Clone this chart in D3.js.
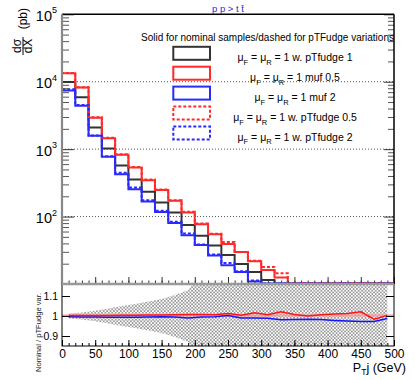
<!DOCTYPE html>
<html>
<head>
<meta charset="utf-8">
<script src="https://cdn.jsdelivr.net/npm/d3@7"></script>
<style>
  body { margin: 0; background: #fff; }
  svg { font-family: "Liberation Sans", Arial, Helvetica, sans-serif; }
</style>
</head>
<body>
<svg id="chart" width="415" height="380"></svg>
<script>
// 20 GeV bins from 0 to 500
const binEdges = d3.range(0, 501, 20)
const binCenters = d3.range(10, 500, 20)

// dsigma/dX (pb) per bin
const nominal = [9900, 5890, 2090, 1020, 571, 355, 233, 162, 115, 74.8, 52, 37.3, 26.9, 19.8, 15.1, 11.5, 0, 0, 0, 0, 0, 0, 0, 0, 0]
const muf05 = [13370, 8190, 2910, 1455, 824, 534, 347, 247, 171, 115, 77, 54.7, 39.3, 29.8, 21.8, 16.1, 12.5, 0, 0, 0, 0, 0, 0, 0, 0]
const muf2 = [7380, 4420, 1575, 769, 426, 255, 167, 117, 80, 53, 37.8, 26.5, 18.9, 15.1, 10.9, 0, 0, 0, 0, 0, 0, 0, 0, 0, 0]
const fudge05 = [13500, 8300, 2960, 1480, 840, 545, 355, 252, 175, 118, 79, 55.6, 41.9, 29.8, 22.1, 17.9, 14.4, 0, 0, 0, 0, 0, 0, 0, 0]
const fudge2 = [7740, 4530, 1590, 785, 446, 270, 175, 122, 84, 56, 38.6, 27.5, 20.5, 15.4, 11.3, 0, 0, 0, 0, 0, 0, 0, 0, 0, 0]

// ratio pad: nominal / pTFudge variation at bin centres
const ratioFudge05 = [1.002, 1.002, 1.003, 1.003, 1.004, 1.004, 1.005, 1.005, 1.006, 1.007, 1.007, 1.006, 1.012, 1.004, 1.016, 1.006, 1.021, 1.008, 1.0, 1.006, 1.01, 1.012, 1.021, 0.984, 1.003]
const ratioFudge2 = [0.996, 0.995, 0.995, 0.994, 0.994, 0.994, 0.995, 0.996, 0.995, 0.99, 0.995, 0.996, 1.003, 0.99, 0.99, 0.989, 0.981, 0.982, 0.984, 0.982, 0.978, 0.975, 0.972, 0.972, 0.988]
// relative stat. uncertainty of the nominal sample (hatched band)
const relErr = [0.013, 0.018, 0.026, 0.038, 0.05, 0.06, 0.072, 0.085, 0.105, 0.13, 0.22, 0.28, 0.34, 0.4, 0.45, 0.5, 0.6, 0.7, 0.8, 0.9, 1, 1, 1, 1, 1]

const xTicks = d3.range(0, 501, 50)
const xMinor = d3.range(0, 501, 10)
const yDecades = [100, 1000, 10000, 100000]
const ratioTicks = [0.9, 1, 1.1]

const legendHeader = 'Solid for nominal samples/dashed for pTFudge variations'
const legendTails = [' = 1 w. pTfudge 1', ' = 1 muf 0.5', ' = 1 muf 2', ' = 1 w. pTfudge 0.5', ' = 1 w. pTfudge 2']

const RED = '#ff2a2a'
const BLUE = '#2a2aff'
const BLACK = '#333'

const series = [
  { values: nominal, color: BLACK, dash: null },
  { values: muf05, color: RED, dash: null },
  { values: muf2, color: BLUE, dash: null },
  { values: fudge05, color: RED, dash: '3,2' },
  { values: fudge2, color: BLUE, dash: '3,2' }
]

const svg = d3.select('#chart')
const left = 62
const right = 394
const mainTop = 14.3
const mainBottom = 284
const ratioTop = 284
const ratioBottom = 346

const x = d3.scaleLinear().domain([0, 500]).range([left, right])
const y = d3.scaleLog().domain([10, 1e5]).range([mainBottom, mainTop])
const yr = d3.scaleLinear().domain([0.85, 1.16]).range([ratioBottom, ratioTop])

const defs = svg.append('defs')
defs.append('clipPath').attr('id', 'clipMain')
  .append('rect').attr('x', left).attr('y', mainTop).attr('width', right - left).attr('height', mainBottom - mainTop + 1)
defs.append('clipPath').attr('id', 'clipRatio')
  .append('rect').attr('x', left).attr('y', ratioTop).attr('width', right - left).attr('height', ratioBottom - ratioTop)
const pat = defs.append('pattern').attr('id', 'hatch')
  .attr('patternUnits', 'userSpaceOnUse').attr('width', 3.4).attr('height', 3.4)
pat.append('path').attr('d', 'M0,0L3.4,3.4M3.4,0L0,3.4')
  .attr('stroke', '#777').attr('stroke-width', 0.65)

// title
svg.append('text')
  .attr('x', 228).attr('y', 12)
  .attr('text-anchor', 'middle')
  .attr('font-size', 9.5)
  .attr('fill', '#2b2bd0')
  .text('p p > t t\u0304')

// ---------- main pad ----------
const main = svg.append('g')

// dotted grid at decades
main.selectAll('.grid')
  .data([100, 1000, 10000])
  .enter().append('line')
  .attr('x1', left).attr('x2', right)
  .attr('y1', d => y(d)).attr('y2', d => y(d))
  .attr('stroke', '#555').attr('stroke-width', 1).attr('stroke-dasharray', '1,2')

// ---------- ratio pad ----------
const ratio = svg.append('g')
const bandArea = d3.area()
  .x((d, i) => x(binCenters[i]))
  .y0(d => yr(1 - d))
  .y1(d => yr(1 + d))
ratio.append('path')
  .attr('clip-path', 'url(#clipRatio)')
  .attr('d', bandArea(relErr))
  .attr('fill', 'url(#hatch)')

ratio.append('line')
  .attr('clip-path', 'url(#clipRatio)')
  .attr('x1', x(0)).attr('x2', x(500))
  .attr('y1', yr(1.002)).attr('y2', yr(1.002))
  .attr('stroke', '#ff9a9a').attr('stroke-width', 2)

const ratioLine = d3.line()
  .x((d, i) => x(binCenters[i]))
  .y(d => yr(d))
ratio.append('path').attr('d', ratioLine(ratioFudge2))
  .attr('fill', 'none').attr('stroke', '#1414ff').attr('stroke-width', 1.5)
ratio.append('path').attr('d', ratioLine(ratioFudge05))
  .attr('fill', 'none').attr('stroke', '#ff1414').attr('stroke-width', 1.5)

// separator between pads
svg.append('line')
  .attr('x1', left).attr('x2', right)
  .attr('y1', mainBottom).attr('y2', mainBottom)
  .attr('stroke', '#999').attr('stroke-width', 2.5)

// histograms
const histLine = d3.line().x(d => x(d[0])).y(d => y(d[1]))
function histPoints (values) {
  const pts = [[0, 10]]
  values.forEach((v, i) => {
    const vv = Math.max(v, 10.2)
    pts.push([binEdges[i], vv], [binEdges[i + 1], vv])
  })
  pts.push([500, 10])
  return pts
}
main.selectAll('.hist')
  .data(series)
  .enter().append('path')
  .attr('clip-path', 'url(#clipMain)')
  .attr('d', d => histLine(histPoints(d.values)))
  .attr('fill', 'none')
  .attr('stroke', d => d.color)
  .attr('stroke-width', 2)
  .attr('stroke-dasharray', d => d.dash)

// main pad axes
const minorLog = []
for (let e = 1; e < 5; e++) {
  for (let m = 2; m < 10; m++) minorLog.push(m * Math.pow(10, e))
}
function styleAxis (g, color) {
  g.selectAll('.tick line').attr('stroke', color)
  g.select('.domain').remove()
}
main.append('g').attr('transform', `translate(${left},0)`)
  .call(d3.axisLeft(y).tickValues(yDecades.concat([10])).tickSize(-12).tickFormat(''))
  .call(g => styleAxis(g, '#333'))
main.append('g').attr('transform', `translate(${left},0)`)
  .call(d3.axisLeft(y).tickValues(minorLog).tickSize(-7).tickFormat(''))
  .call(g => styleAxis(g, '#555'))
main.append('g').attr('transform', `translate(${right},0)`)
  .call(d3.axisRight(y).tickValues(yDecades).tickSize(-10).tickFormat(''))
  .call(g => styleAxis(g, '#333'))
main.append('g').attr('transform', `translate(${right},0)`)
  .call(d3.axisRight(y).tickValues(minorLog).tickSize(-6).tickFormat(''))
  .call(g => styleAxis(g, '#555'))
main.append('g').attr('transform', `translate(0,${mainBottom})`)
  .call(d3.axisBottom(x).tickValues(xTicks).tickSize(-7).tickFormat(''))
  .call(g => styleAxis(g, '#333'))
main.append('g').attr('transform', `translate(0,${mainBottom})`)
  .call(d3.axisBottom(x).tickValues(xMinor).tickSize(-3.5).tickFormat(''))
  .call(g => styleAxis(g, '#333'))

// main pad frame
main.append('line').attr('x1', left).attr('x2', right).attr('y1', mainTop).attr('y2', mainTop)
  .attr('stroke', '#000').attr('stroke-width', 1.5)
main.append('line').attr('x1', right).attr('x2', right).attr('y1', mainTop).attr('y2', mainBottom)
  .attr('stroke', '#000').attr('stroke-width', 1.5)
main.append('line').attr('x1', left).attr('x2', left).attr('y1', mainTop).attr('y2', mainBottom)
  .attr('stroke', '#888').attr('stroke-width', 2.2)

// decade labels 10^n
const decLabels = main.selectAll('.declabel')
  .data(yDecades)
  .enter().append('text')
  .attr('x', 57)
  .attr('y', d => y(d) + 6.5)
  .attr('text-anchor', 'end')
  .attr('font-size', 14.5)
  .attr('fill', '#000')
decLabels.append('tspan').text('10')
decLabels.append('tspan').attr('dy', -7.5).attr('font-size', 9).text(d => Math.round(Math.log10(d)))

// y title: d sigma / dX (pb)
const yt = svg.append('g')
const fracY = 46
yt.append('text').attr('transform', `translate(21,${fracY}) rotate(-90)`)
  .attr('text-anchor', 'middle').attr('font-size', 12).text('d\u03c3')
yt.append('text').attr('transform', `translate(32,${fracY}) rotate(-90)`)
  .attr('text-anchor', 'middle').attr('font-size', 12).text('dX')
yt.append('line').attr('x1', 23).attr('x2', 23).attr('y1', fracY - 9).attr('y2', fracY + 9)
  .attr('stroke', '#000').attr('stroke-width', 1)
yt.append('text').attr('transform', `translate(27,8) rotate(-90)`)
  .attr('text-anchor', 'end').attr('font-size', 12).text('(pb)')

// legend
const legend = svg.append('g')
legend.append('text')
  .attr('x', 267.5).attr('y', 41)
  .attr('text-anchor', 'middle').attr('font-size', 10)
  .text(legendHeader)
const rowY = i => 53.3 + i * 19.9
legend.selectAll('.lbox')
  .data(series)
  .enter().append('rect')
  .attr('x', 173.3).attr('y', (d, i) => rowY(i) - 6.5)
  .attr('width', 36.7).attr('height', 13)
  .attr('fill', 'none')
  .attr('stroke', d => d.color)
  .attr('stroke-width', 2)
  .attr('stroke-dasharray', d => d.dash)
const lt = legend.selectAll('.ltext')
  .data(legendTails)
  .enter().append('text')
  .attr('x', 295).attr('y', (d, i) => rowY(i) + 8)
  .attr('text-anchor', 'middle').attr('font-size', 10.5)
lt.append('tspan').text('\u03bc')
lt.append('tspan').attr('dy', 3.5).attr('font-size', 7.5).text('F')
lt.append('tspan').attr('dy', -3.5).text(' = \u03bc')
lt.append('tspan').attr('dy', 3.5).attr('font-size', 7.5).text('R')
lt.append('tspan').attr('dy', -3.5).text(d => d)

// ratio pad axes
ratio.append('g').attr('transform', `translate(${left},0)`)
  .call(d3.axisLeft(yr).tickValues(ratioTicks).tickSize(-8).tickPadding(4).tickFormat(d3.format('')))
  .call(g => styleAxis(g, '#000'))
  .call(g => g.selectAll('text').attr('font-size', 10.5).attr('fill', '#000').attr('font-family', null))
ratio.append('g').attr('transform', `translate(${right},0)`)
  .call(d3.axisRight(yr).tickValues(ratioTicks).tickSize(-8).tickFormat(''))
  .call(g => styleAxis(g, '#000'))
ratio.append('g').attr('transform', `translate(0,${ratioBottom})`)
  .call(d3.axisBottom(x).tickValues(xMinor).tickSize(-3).tickFormat(''))
  .call(g => styleAxis(g, '#000'))
ratio.append('g').attr('transform', `translate(0,${ratioBottom})`)
  .call(d3.axisBottom(x).tickValues(xTicks).tickSize(-6).tickPadding(3).tickFormat(d3.format('d')))
  .call(g => styleAxis(g, '#000'))
  .call(g => g.selectAll('text').attr('font-size', 12).attr('fill', '#000').attr('font-family', null))

ratio.append('rect')
  .attr('x', left).attr('y', ratioTop).attr('width', right - left).attr('height', ratioBottom - ratioTop)
  .attr('fill', 'none').attr('stroke', '#000').attr('stroke-width', 1)
svg.append('line')
  .attr('x1', left).attr('x2', right)
  .attr('y1', mainBottom).attr('y2', mainBottom)
  .attr('stroke', '#999').attr('stroke-width', 2)

// axis titles
const xt = svg.append('text')
  .attr('x', 406).attr('y', 372)
  .attr('text-anchor', 'end').attr('font-size', 12.5)
xt.append('tspan').text('P')
xt.append('tspan').attr('dy', 3).attr('font-size', 8.5).text('T')
xt.append('tspan').attr('dy', -3).text('j (GeV)')

svg.append('text')
  .attr('transform', 'translate(41,293) rotate(-90)')
  .attr('text-anchor', 'end').attr('font-size', 7.6)
  .attr('fill', '#222')
  .text('Nominal / pTFudge var.')
</script>
</body>
</html>
